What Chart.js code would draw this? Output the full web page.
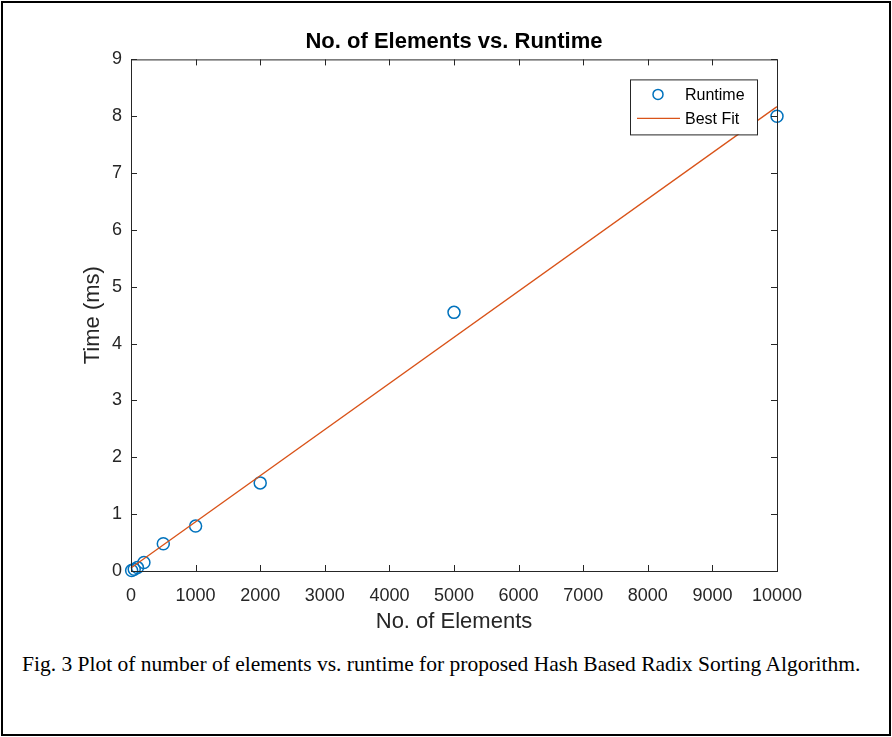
<!DOCTYPE html>
<html>
<head>
<meta charset="utf-8">
<script src="https://cdn.jsdelivr.net/npm/chart.js@4.4.1/dist/chart.umd.min.js"></script>
<style>
    html, body { margin: 0; padding: 0; background: #fff; }
    #frame {
        position: absolute; left: 1px; top: 1px;
        width: 890px; height: 735px;
        border: 2px solid #000; box-sizing: border-box;
    }
    #chartBox { position: absolute; left: 0; top: 0; width: 892px; height: 640px; }
    #caption {
        position: absolute; left: 22px; top: 652px;
        font-family: "Liberation Serif", "Times New Roman", serif;
        font-size: 21.5px; color: #000; white-space: nowrap;
    }
</style>
</head>
<body>
<div id="frame"></div>
<div id="chartBox"><canvas id="runtimeChart"></canvas></div>
<div id="caption">Fig. 3 Plot of number of elements vs. runtime for proposed Hash Based Radix Sorting Algorithm.</div>
<script>
// measured runtimes
const elementCounts = [10, 50, 100, 200, 500, 1000, 2000, 5000, 10000];
const runtimesMs = [0.01, 0.03, 0.06, 0.15, 0.48, 0.79, 1.55, 4.55, 8.0];

// best fit line end points
const fitX = [10, 10000];
const fitY = [0.06, 8.17];

const xTicks = [0, 1000, 2000, 3000, 4000, 5000, 6000, 7000, 8000, 9000, 10000];
const yTicks = [0, 1, 2, 3, 4, 5, 6, 7, 8, 9];

const blue = '#0072BD';
const orange = '#D95319';
const axisColor = '#262626';
const fontFamily = '"Liberation Sans", Arial, sans-serif';

// MATLAB style box with inward ticks, plus the framed legend
const boxPlugin = {
    id: 'matlabBox',
    afterDraw(chart) {
        const { ctx, chartArea: a, scales } = chart;
        const len = 6;
        ctx.save();
        ctx.strokeStyle = axisColor;
        ctx.lineWidth = 1;
        ctx.strokeRect(a.left + 0.5, a.top + 0.5, a.right - a.left, a.bottom - a.top);
        ctx.beginPath();
        xTicks.forEach(v => {
            const px = Math.round(scales.x.getPixelForValue(v)) + 0.5;
            ctx.moveTo(px, a.bottom); ctx.lineTo(px, a.bottom - len);
            ctx.moveTo(px, a.top); ctx.lineTo(px, a.top + len);
        });
        yTicks.forEach(v => {
            const py = Math.round(scales.y.getPixelForValue(v)) + 0.5;
            ctx.moveTo(a.left, py); ctx.lineTo(a.left + len, py);
            ctx.moveTo(a.right, py); ctx.lineTo(a.right - len, py);
        });
        ctx.stroke();

        // legend
        const lx = a.right - 147, ly = a.top + 20, lw = 127, lh = 55;
        ctx.fillStyle = '#fff';
        ctx.fillRect(lx, ly, lw, lh);
        ctx.strokeStyle = axisColor;
        ctx.strokeRect(lx + 0.5, ly + 0.5, lw, lh);
        ctx.strokeStyle = blue;
        ctx.lineWidth = 1.5;
        ctx.beginPath();
        ctx.arc(lx + 28, ly + 15, 5, 0, Math.PI * 2);
        ctx.stroke();
        ctx.strokeStyle = orange;
        ctx.lineWidth = 1.3;
        ctx.beginPath();
        ctx.moveTo(lx + 7, ly + 39); ctx.lineTo(lx + 50, ly + 39);
        ctx.stroke();
        ctx.fillStyle = '#000';
        ctx.font = '16px ' + fontFamily;
        ctx.textBaseline = 'middle';
        ctx.fillText('Runtime', lx + 55, ly + 16);
        ctx.fillText('Best Fit', lx + 55, ly + 40);
        ctx.restore();
    }
};

const ctx = document.getElementById('runtimeChart').getContext('2d');
new Chart(ctx, {
    type: 'scatter',
    data: {
        datasets: [
            {
                label: 'Runtime',
                data: elementCounts.map((x, i) => ({ x: x, y: runtimesMs[i] })),
                borderColor: blue,
                backgroundColor: 'rgba(0,0,0,0)',
                borderWidth: 1.5,
                pointRadius: 6,
                pointHoverRadius: 6,
                clip: false,
                order: 2
            },
            {
                label: 'Best Fit',
                data: fitX.map((x, i) => ({ x: x, y: fitY[i] })),
                showLine: true,
                borderColor: orange,
                borderWidth: 1.3,
                pointRadius: 0,
                fill: false,
                order: 1
            }
        ]
    },
    options: {
        responsive: true,
        maintainAspectRatio: false,
        animation: false,
        layout: { padding: { left: 0, top: 0, right: 115, bottom: 0 } },
        plugins: {
            legend: { display: false },
            tooltip: { enabled: false },
            title: {
                display: true,
                fullSize: false,
                text: 'No. of Elements vs. Runtime',
                color: '#000',
                font: { family: fontFamily, size: 22, weight: 'bold' },
                padding: { top: 29, bottom: 4 }
            }
        },
        scales: {
            x: {
                type: 'linear',
                min: 0,
                max: 10000,
                afterBuildTicks: scale => { scale.ticks = xTicks.map(v => ({ value: v })); },
                afterFit: scale => { scale.height = 69; },
                grid: { display: false, drawTicks: false },
                border: { display: false },
                ticks: {
                    color: axisColor,
                    padding: 14,
                    maxRotation: 0,
                    callback: v => String(v),
                    font: { family: fontFamily, size: 18 }
                },
                title: {
                    display: true,
                    text: 'No. of Elements',
                    color: axisColor,
                    font: { family: fontFamily, size: 22 },
                    padding: { top: 0, bottom: 5 }
                }
            },
            y: {
                type: 'linear',
                min: 0,
                max: 9,
                afterBuildTicks: scale => { scale.ticks = yTicks.map(v => ({ value: v })); },
                afterFit: scale => { scale.width = 131; },
                grid: { display: false, drawTicks: false },
                border: { display: false },
                ticks: {
                    color: axisColor,
                    padding: 9,
                    callback: v => String(v),
                    font: { family: fontFamily, size: 18 }
                },
                title: {
                    display: true,
                    text: 'Time (ms)',
                    color: axisColor,
                    font: { family: fontFamily, size: 22 },
                    padding: { top: 80, bottom: 0 }
                }
            }
        }
    },
    plugins: [boxPlugin]
});
</script>
</body>
</html>
